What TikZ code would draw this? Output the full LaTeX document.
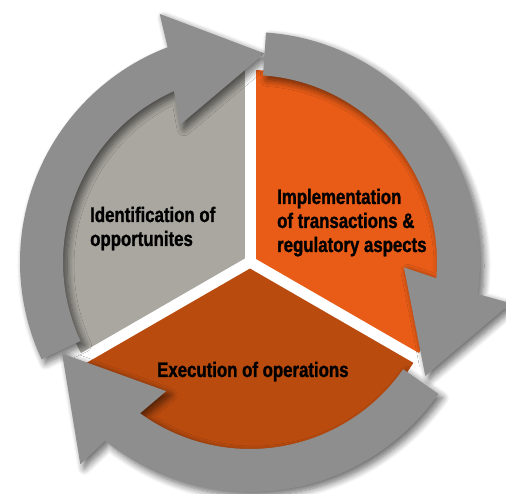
\documentclass[tikz,border=0pt]{standalone}
\usepackage{fontspec}
\setmainfont{Liberation Sans}[FakeStretch=0.8, BoldFont={Liberation Sans Bold}, BoldFeatures={FakeStretch=0.8, FakeBold=1.2}]
\usetikzlibrary{shadows.blur}
\definecolor{ringgray}{HTML}{8E8E8E}
\definecolor{secgray}{HTML}{A9A7A0}
\definecolor{secorange}{HTML}{E85C17}
\definecolor{secdark}{HTML}{B94B0F}
\tikzset{
  ringarrow/.style={fill=ringgray, blur shadow={shadow xshift=4pt, shadow yshift=-4pt, shadow blur radius=7pt, shadow blur steps=10, shadow opacity=60}},
  gap/.style={draw=white, line width=11pt},
  label/.style={anchor=base west, inner sep=0pt, align=left, text=black,
    font=\fontsize{21}{24}\selectfont\bfseries}
}
\newcommand\cyclearrow[1]{%
  \path[ringarrow] (#1:187) arc[start angle=#1, end angle={#1-91}, radius=187]
    -- ({#1-88}:154) -- ({#1-119}:209) -- ({#1-95}:264) -- ({#1-94}:230)
    arc[start angle={#1-94}, end angle=#1, radius=230] -- cycle;}
\begin{document}
\begin{tikzpicture}[x=1pt,y=1pt]
\useasboundingbox (0,0) rectangle (506,494);
\coordinate (C) at (250,232);
\begin{scope}[shift={(C)}]
  \fill[secgray] (0,0) -- (90:192) arc[start angle=90, end angle=210, radius=192] -- cycle;
  \fill[secorange] (0,0) -- (-30:192) arc[start angle=-30, end angle=90, radius=192] -- cycle;
  \fill[secdark] (0,0) -- (210:192) arc[start angle=210, end angle=330, radius=192] -- cycle;
  \coordinate (o) at (0,0);
  \coordinate (g1) at (90:200);
  \coordinate (g2) at (210:200);
  \coordinate (g3) at (330:200);
  \draw[gap] (o) -- (g1);
  \draw[gap] (o) -- (g2);
  \draw[gap] (o) -- (g3);
  \cyclearrow{205}
  \cyclearrow{86}
  \cyclearrow{325}
\end{scope}
\node[label] (ident) at (90,248) {Identification of\\opportunites};
\node[label] (impl) at (277,242) {Implementation\\of transactions \&\\regulatory aspects};
\node[label] (exec) at (157,117) {Execution of operations};
\end{tikzpicture}
\end{document}
